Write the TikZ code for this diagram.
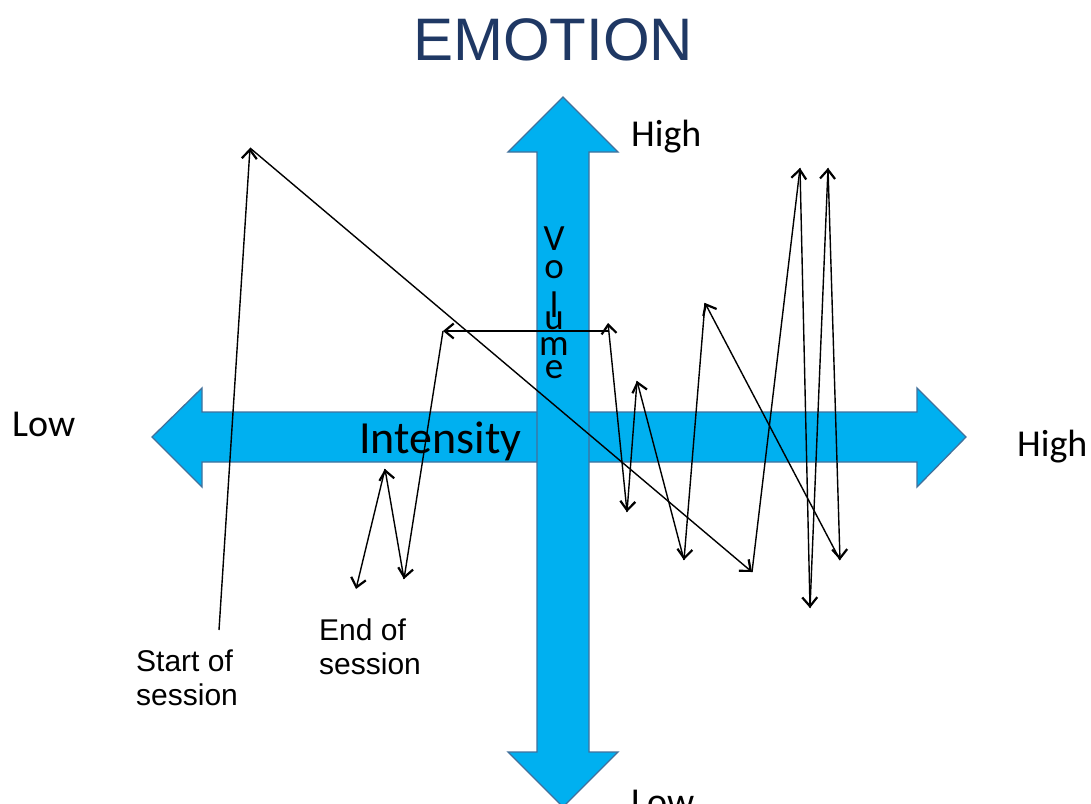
\documentclass[tikz,border=0pt]{standalone}
\usepackage{fontspec}
\setmainfont{Liberation Sans}
\newfontfamily\calfont{Carlito}
\usetikzlibrary{arrows.meta}
\definecolor{arrowfill}{RGB}{0,176,240}
\definecolor{arrowedge}{RGB}{65,113,156}
\definecolor{titleblue}{RGB}{31,56,100}
\begin{document}
\begin{tikzpicture}[x=1pt,y=-1pt,
  seg/.style={-{Straight Barb[length=9pt,width=15pt,line width=2.2pt]}, line width=1.4pt},
  bigarrow/.style={fill=arrowfill, draw=arrowedge, line width=1.3pt, line join=miter},
  lbl/.style={font=\calfont\fontsize{38}{42}\selectfont, inner sep=0pt},
  vlbl/.style={font=\calfont\fontsize{37}{40}\selectfont, inner sep=0pt, anchor=base},
  note/.style={font=\fontsize{30}{34}\selectfont, inner sep=0pt, anchor=base west}]
\useasboundingbox (0,0) rectangle (1091,803);
\fill[white] (0,0) rectangle (1091,803);
% horizontal arrow (Intensity)
\draw[bigarrow] (152,437) -- (202,388) -- (202,412) -- (917,412) -- (917,388) -- (966,437)
  -- (917,487) -- (917,462) -- (202,462) -- (202,487) -- cycle;
% vertical arrow (Volume)
\draw[bigarrow] (563,97) -- (618,152) -- (589,152) -- (589,752) -- (618,752) -- (563,807)
  -- (508,752) -- (537,752) -- (537,152) -- (508,152) -- cycle;
% title
\node[font=\fontsize{60}{66}\selectfont, text=titleblue, inner sep=0pt, anchor=base] (title) at (553,60) {EMOTION};
% axis labels
\node[lbl, anchor=base west] (hightop) at (631,146) {High};
\node[lbl, anchor=base west] (lowleft) at (12,436) {Low};
\node[lbl, anchor=base west] (highright) at (1017,456) {High};
\node[lbl, anchor=base west] (lowbottom) at (631,814) {Low};
\node[font=\calfont\fontsize{46}{50}\selectfont, inner sep=0pt, anchor=base west] (intensity) at (359,453) {Intensity};
\node[vlbl] (v1) at (554,250) {V};
\node[vlbl] (v2) at (554,278) {o};
\node[vlbl] (v3) at (554,317) {l};
\node[vlbl] (v4) at (554,329) {u};
\node[vlbl] (v5) at (554,355) {m};
\node[vlbl] (v6) at (554,378) {e};
% notes
\node[note] (start1) at (136,671) {Start of};
\node[note] (start2) at (136,705) {session};
\node[note] (end1) at (319,640) {End of};
\node[note] (end2) at (319,674) {session};
% path vertices
\coordinate (p0) at (219,630);
\coordinate (p1) at (250,148);
\coordinate (p2) at (752,572);
\coordinate (p3) at (800,168);
\coordinate (p4) at (810,608);
\coordinate (p5) at (828,168);
\coordinate (p6) at (840,560);
\coordinate (p7) at (705,303);
\coordinate (p8) at (684,560);
\coordinate (p9) at (637,381);
\coordinate (p10) at (627,512);
\coordinate (p11) at (608,323);
\coordinate (p11b) at (608,331);
\coordinate (p12) at (443,331);
\coordinate (p13) at (404,579);
\coordinate (p14) at (385,469);
\coordinate (p15) at (356,589);
\draw[seg] (p0) -- (p1);
\draw[seg] (p1) -- (p2);
\draw[seg] (p2) -- (p3);
\draw[seg] (p3) -- (p4);
\draw[seg] (p4) -- (p5);
\draw[seg] (p5) -- (p6);
\draw[seg] (p6) -- (p7);
\draw[seg] (p7) -- (p8);
\draw[seg] (p8) -- (p9);
\draw[seg] (p9) -- (p10);
\draw[seg] (p10) -- (p11);
\draw[seg] (p11b) -- (p12);
\draw[seg] (p12) -- (p13);
\draw[seg] (p13) -- (p14);
\draw[seg] (p14) -- (p15);
\end{tikzpicture}
\end{document}
